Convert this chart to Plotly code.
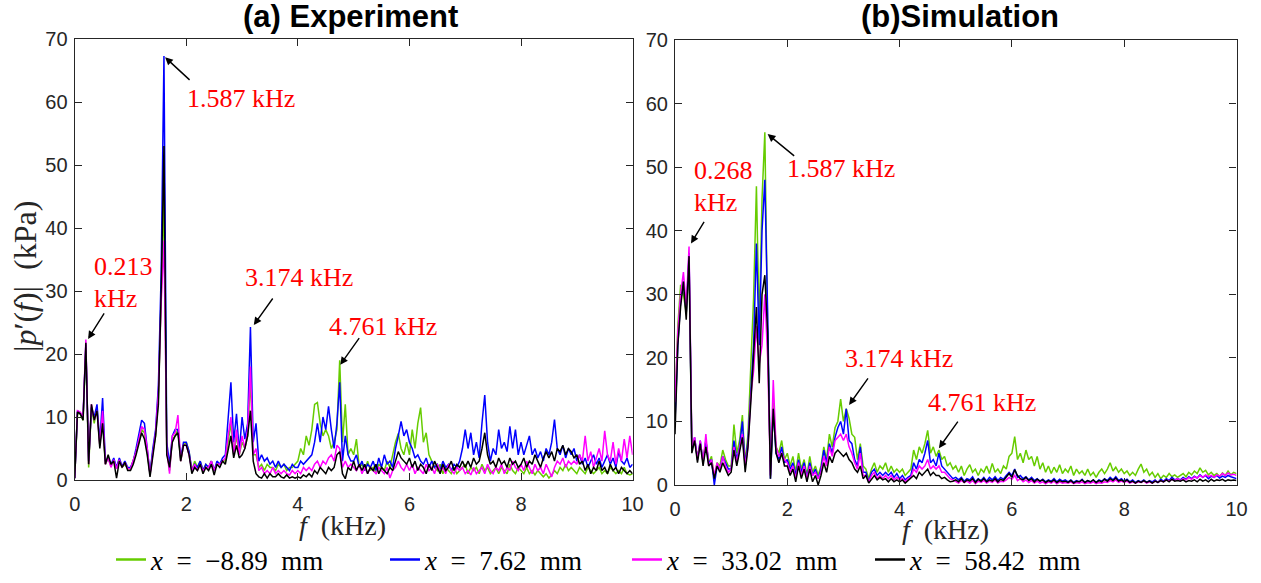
import plotly.graph_objects as go

W, H = 1261, 583

# frequency samples (kHz), 0.05 kHz spacing
freq = [round(i * 0.05, 2) for i in range(201)]

NB = "\u00a0"
legend_labels = [f"<i>x</i>{NB}{NB}={NB}{NB}\u22128.89{NB}{NB}mm",
                 f"<i>x</i>{NB}{NB}={NB}{NB}7.62{NB}{NB}mm",
                 f"<i>x</i>{NB}{NB}={NB}{NB}33.02{NB}{NB}mm",
                 f"<i>x</i>{NB}{NB}={NB}{NB}58.42{NB}{NB}mm"]
colors = ["#66cc00", "#0000ff", "#ff00ff", "#000000"]

# ---------------- (a) Experiment ----------------
exp_green = [
    0.3, 10.5, 10.5, 9.5, 21, 2, 11.5, 9, 11.5, 5.5, 10, 2.5, 3.5, 2.2, 3, 2, 3.2, 2, 2.5, 1.8,
    1.8, 3, 4.5, 6, 8, 7.5, 4.5, 1, 4.5, 7, 13, 30, 45, 5, 1.5, 6.5, 7, 8, 3, 5.5,
    6, 4.5, 1.5, 3, 2, 3, 1.5, 2.5, 2, 3, 1.5, 2.5, 2.5, 3, 3, 6, 9, 4, 7, 4,
    6, 5, 7, 16, 4, 4, 2, 2.5, 1.5, 2.5, 2, 2, 1.5, 2.5, 2, 2.5, 1.5, 2, 2, 2.5,
    3, 5, 4, 7, 5.5, 8, 12, 12.3, 9, 7, 8, 7, 5, 6, 8, 19, 6, 12, 4, 5,
    4, 6.5, 2, 2.5, 1.5, 3, 1.5, 2, 1, 2.5, 2, 1.5, 3, 2, 4, 6, 7.4, 5, 4, 6,
    4, 8, 5, 9, 11.5, 6, 7.5, 4, 3, 2, 1.5, 2.5, 1, 2, 1.5, 1, 2, 1, 1.5, 2,
    2.5, 1, 2, 1.5, 2, 1, 2.5, 1.5, 2, 1, 1.5, 2, 1, 2, 1.5, 1, 2.5, 1.5, 1, 2,
    1.5, 1, 2, 1, 1.5, 0.8, 1.5, 1, 0.5, 1, 0.3, 0.8, 1.5, 1, 2, 1.5, 2.5, 1.5, 2, 1.5,
    1, 2, 1.5, 1, 2, 1.5, 1, 1.5, 2, 1, 1.5, 1, 2, 1.5, 1, 1.5, 1, 2, 1, 0.8, 1,
]
exp_blue = [
    0.3, 11, 10.5, 10, 21.5, 3, 11.5, 10, 12, 6, 13, 3, 3.5, 2.5, 3.5, 2, 3.5, 2.2, 3, 2,
    2, 3, 5, 7, 9.5, 9, 5, 1, 5, 8, 15, 33, 67.3, 6, 2.5, 7, 8, 8, 3.5, 6,
    6, 4.5, 1.5, 2.5, 2, 3, 1.5, 2.5, 2, 3, 1.5, 3, 2.5, 3.5, 4, 10, 15.5, 6, 10.5, 4.5,
    10, 6.5, 9, 24.3, 6, 9, 3, 4, 3, 3.5, 2.5, 3, 2, 3, 2, 2.5, 2, 1.5, 2.5, 2,
    2, 3, 2.5, 3, 3.5, 4, 6, 9, 6, 10, 8, 11.7, 8, 5, 9, 15.5, 3, 7, 4, 3,
    3, 4, 2, 3, 1.5, 2.5, 2, 3, 1.5, 3.5, 2, 4, 2.5, 3, 2, 5, 7, 9.3, 7, 8,
    6, 5, 3.5, 4, 3, 2.5, 3.5, 2, 3, 2, 2.5, 1.5, 3, 2, 2.5, 1.5, 2.5, 2, 3, 5,
    8, 5, 7.5, 4, 6, 3.5, 9, 13.5, 6, 3, 5, 4, 8, 5, 6, 4.5, 8.5, 5, 8, 4,
    6, 4, 5.5, 7, 4, 5, 3.5, 4.5, 3, 5, 4, 6, 9.6, 5, 4, 5.5, 3.5, 5, 4, 5,
    3, 4, 2.5, 3.5, 2, 3, 4, 2.5, 3.5, 2, 3, 4, 2.5, 3.5, 2, 4.5, 3, 2.5, 3.5, 2, 2.5,
]
exp_magenta = [
    0.3, 11, 10.8, 10, 22.3, 2.5, 12, 9.5, 11, 5.5, 11, 2.5, 3.5, 2, 3.2, 1.8, 3.2, 2, 2.8, 1.8,
    1.8, 3, 4.5, 6.5, 8.5, 8, 5, 0.8, 4.5, 7.5, 14, 28, 38, 5, 1, 7, 7.5, 10.3, 3, 5.5,
    5.5, 4, 1.5, 2.5, 1.5, 2.5, 1.5, 2, 2, 3, 1.5, 2.5, 2.5, 3, 3.5, 7, 10, 4, 8, 4,
    7, 5, 8, 18, 4, 5, 1.5, 2, 1, 1.5, 1, 2, 1, 1.5, 1, 1.5, 1, 0.8, 1.5, 1,
    1.5, 1, 2, 1.5, 2, 1.5, 2.5, 3, 2, 3, 2.5, 3.5, 4, 3, 5.5, 5, 2, 3, 2, 2.5,
    2, 1.5, 2.5, 1, 2, 1, 2, 1.5, 1, 2, 1.5, 1, 2, 0.3, 1.5, 2, 3, 2, 1.5, 2.5,
    1.5, 2.5, 1, 2, 1.5, 1, 2.5, 1.5, 2, 1, 2.5, 1.5, 2, 1, 2.5, 1.5, 1, 2, 1.5, 2,
    1, 1.5, 0.8, 2, 1, 1.5, 2, 1, 2.5, 1.5, 1, 2, 1.5, 2.5, 1, 2, 1.5, 3, 2, 1.5,
    2.5, 1.5, 3, 2, 1, 2.5, 1.5, 2, 1, 2.5, 1.5, 0.5, 2, 3, 2.5, 3.5, 2, 3, 2.5, 3,
    2.5, 4, 3, 7, 3, 4.5, 2, 3.5, 5, 3, 7.8, 4, 3, 6, 2.5, 5, 3, 6.5, 3.5, 7, 4,
]
exp_black = [
    0.3, 10.8, 10.5, 9.5, 21.8, 2.5, 12, 9.5, 11, 5, 9, 2.5, 4, 2.5, 3, 0.3, 3, 2, 2.8, 1.5,
    1.5, 2.5, 4, 6, 7.5, 6.5, 4, 0.5, 4, 7, 12, 30, 53, 4, 2, 6, 7, 7.5, 3, 5.5,
    5.5, 4, 1, 2, 1.5, 2.5, 1, 2, 1.5, 2.5, 0.8, 2.5, 2, 3, 2.5, 5, 7, 3.5, 5.5, 3.5,
    4, 5, 7, 11, 3, 1, 0.5, 0.3, 1, 0.3, 1, 0.5, 0.5, 1, 0.5, 0.3, 0.8, 0.3, 0.5, 0.3,
    0.5, 0.3, 0.8, 0.5, 1, 0.5, 1.5, 1, 2, 1.5, 1, 2, 1.5, 2, 4, 4.5, 1, 0.2, 2, 1.5,
    3, 1.5, 2.5, 1.5, 2.5, 1, 2, 1.5, 2.5, 1, 2, 1.5, 1, 2, 1.5, 3, 4.5, 3.5, 3, 2.5,
    3.5, 2, 3, 1.5, 2.5, 2, 1, 2.5, 1.5, 3, 2, 1, 2.5, 1.5, 2, 3, 1.5, 2.5, 2, 3,
    2, 3, 2, 3.5, 2.5, 3, 5, 7.5, 4, 2.5, 3, 2, 3.5, 2.5, 3, 2, 3.5, 2.5, 3, 2,
    2.5, 3.5, 2, 3, 2.5, 4, 3, 2, 3.5, 4.5, 3.5, 4.5, 3, 5, 4.5, 5.5, 4, 5, 4.5, 3.5,
    4, 2.5, 3, 1.5, 2.5, 1, 2, 1.5, 3, 1.5, 2, 1, 2.5, 1.5, 2, 1, 2, 1.5, 1, 1.5, 1,
]

# ---------------- (b) Simulation ----------------
sim_green = [
    12, 25, 31.5, 30, 27, 35, 6, 7, 4.5, 6.5, 4, 7, 3.5, 4.5, 1, 3.5, 3, 5.5, 4, 3,
    3, 9.5, 5, 7, 11, 3.5, 8, 18, 29.5, 47, 25, 45, 55.5, 24, 1.5, 13, 6, 5, 7, 4,
    5, 3, 4.5, 2, 5, 2.5, 4, 1.5, 4.5, 2, 3, 1.5, 3, 6, 4, 8, 6, 9, 10, 13.5,
    10, 12, 10.5, 8, 7.5, 4, 6.5, 3, 2.5, 1, 2.5, 3.5, 2, 3, 2.5, 3.5, 2, 3, 2, 2.5,
    2, 2.5, 1.5, 2, 2.5, 5.5, 4, 6, 5, 6.5, 8.6, 5, 6, 4.5, 5.5, 4, 4.5, 3, 3.5, 2.5,
    3, 2, 3, 1.5, 2.5, 3.2, 2, 2.5, 1.5, 2.5, 2, 3, 1.8, 3.4, 2, 2.5, 1.8, 3, 2.5, 4.5,
    5, 7.6, 4, 5, 3.5, 5.5, 4, 4.5, 3, 4.5, 2.5, 3.5, 2, 3, 1.8, 2.8, 2, 3.2, 1.8, 2.5,
    2, 3, 1.5, 2.5, 1.8, 2.2, 1.5, 2.5, 1.5, 2, 1.2, 2, 2.5, 1.8, 2.5, 3.5, 2.2, 2.8, 2, 2.5,
    1.8, 2.2, 1.5, 2, 1.5, 2.5, 3.3, 2, 2.5, 1.5, 2, 1.2, 1.8, 1, 1.5, 1.2, 1.8, 1.3, 1.6, 1.2,
    1.5, 1.8, 1.3, 2, 1.6, 2.2, 1.8, 2.7, 2, 2.3, 1.6, 2, 1.5, 1.8, 1.3, 1.9, 1.5, 2.2, 1.6, 2, 1.8,
]
sim_blue = [
    10, 22, 29, 32, 27, 36.5, 5.5, 7.5, 4, 7, 3.5, 7, 3.5, 4, 0, 3, 2.5, 4.5, 3.5, 2.5,
    2.5, 7, 4, 6, 10, 3, 7, 15, 22, 38, 22, 40, 48, 27, 1, 12, 5, 4, 6, 3.5,
    4, 2.5, 3.5, 1.5, 4, 2, 3.5, 1, 3.5, 1.5, 2.5, 1, 2.5, 5.5, 3.5, 6.5, 5, 7.5, 9, 10,
    8, 12, 7, 6.5, 4, 3, 6, 2, 2, 0.5, 2, 2.5, 1.5, 2, 1.5, 2, 1.5, 2, 1.2, 1.8,
    1, 1.5, 0.8, 1.2, 1.5, 3.5, 2.5, 4, 3.5, 5, 7, 3.5, 4, 3, 5, 3, 2.5, 2, 1.5, 1,
    1.2, 0.8, 1.2, 0.6, 1, 0.8, 1.3, 0.5, 1, 0.7, 1.2, 0.6, 1.2, 0.8, 1.3, 0.7, 1.2, 0.9, 1.5, 2,
    1.5, 2.5, 1.2, 1.5, 1, 1.3, 0.8, 1.2, 0.7, 1, 0.6, 0.9, 0.5, 0.8, 0.6, 1, 0.5, 0.9, 0.6, 0.8,
    0.5, 0.8, 0.4, 0.7, 0.5, 0.9, 0.4, 0.7, 0.5, 0.8, 0.4, 0.8, 0.6, 1, 0.7, 1.2, 0.8, 1.3, 0.7, 1,
    0.6, 0.9, 0.5, 0.8, 0.4, 0.7, 0.5, 0.8, 0.4, 0.7, 0.5, 0.8, 0.4, 0.9, 0.6, 1, 0.7, 1.2, 0.8, 1,
    0.8, 1.2, 0.9, 1.3, 1, 1.4, 1.1, 1.6, 1.2, 1.5, 1, 1.4, 1.2, 1.5, 1.1, 1.4, 1.2, 1.5, 1.3, 1.2, 1,
]
sim_magenta = [
    13, 24, 30, 33.5, 28, 37.5, 6, 7.5, 4, 7, 3.5, 8, 3, 4, 1.5, 3.5, 2.5, 4.5, 3, 2,
    2.5, 6, 3.5, 5.5, 8, 3, 6, 14, 18, 25, 19, 22, 30, 20, 1.5, 16.5, 6, 4.5, 5, 4,
    3.5, 2, 3, 1, 3.5, 1.5, 3, 1, 3, 1.5, 2, 1, 2, 4.5, 3, 6, 4.5, 7, 7.5, 8,
    7, 8, 6, 5, 3.5, 2.5, 5, 1.5, 1.5, 0.5, 1.5, 2, 1, 1.5, 1, 1.5, 1, 1.5, 0.8, 1.2,
    0.8, 1, 0.5, 1, 1.2, 2.5, 2, 3, 2.5, 3, 4, 2.5, 3, 2.5, 3, 2, 2, 1.5, 1, 0.8,
    0.6, 0.3, 0.7, 0.4, 0.6, 0.3, 0.7, 0.2, 0.6, 0.4, 0.7, 0.3, 0.6, 0.4, 0.8, 0.3, 0.6, 0.5, 0.8, 1.2,
    0.9, 1.5, 0.7, 1, 0.5, 0.8, 0.4, 0.7, 0.3, 0.6, 0.3, 0.5, 0.2, 0.5, 0.3, 0.6, 0.2, 0.5, 0.3, 0.4,
    0.3, 0.5, 0.2, 0.4, 0.3, 0.5, 0.2, 0.4, 0.3, 0.5, 0.2, 0.4, 0.3, 0.5, 0.4, 0.7, 0.5, 0.8, 0.4, 0.6,
    0.4, 0.6, 0.3, 0.5, 0.3, 0.5, 0.4, 0.6, 0.3, 0.5, 0.3, 0.6, 0.4, 0.7, 0.5, 0.8, 0.6, 0.9, 0.7, 1,
    0.7, 1, 0.8, 1.2, 0.9, 1.3, 1.1, 1.5, 1.2, 1.6, 1.3, 1.5, 1.2, 1.6, 1.4, 1.8, 1.5, 1.9, 1.6, 1.7, 1.5,
]
sim_black = [
    8, 22, 28, 32, 26, 36, 5, 7, 3.5, 6.5, 3, 6, 3, 3.5, 1, 3, 2, 3.5, 2.5, 1.5,
    2, 5.5, 3, 5, 7.5, 2, 6, 13, 20, 28, 16, 30, 33, 24, 1, 12, 5, 3.5, 5, 3,
    3, 1.5, 2.5, 0.5, 3, 1, 2.5, 0.5, 2.5, 0.5, 1.5, 0, 1.5, 3.5, 2, 4.5, 3.5, 5, 5.5, 5,
    4.5, 5, 4, 3.5, 2.5, 2, 3, 1, 1.5, 0.3, 1, 1.5, 0.8, 1.2, 0.8, 1, 0.5, 1, 0.5, 0.8,
    0.5, 0.8, 0.3, 0.7, 1, 1.5, 1, 2, 1.5, 2, 2.5, 1.5, 2, 1.5, 1.5, 1, 1.2, 0.8, 0.5, 0.6,
    0.8, 0.5, 1, 0.4, 0.8, 0.6, 1, 0.4, 0.9, 0.6, 1, 0.5, 0.8, 0.6, 1, 0.5, 0.9, 0.7, 1.2, 1.8,
    1.2, 2.4, 1.5, 1, 0.8, 1.2, 0.7, 1, 0.5, 0.9, 0.6, 0.8, 0.4, 0.7, 0.5, 0.8, 0.4, 0.7, 0.5, 0.6,
    0.4, 0.7, 0.3, 0.6, 0.5, 0.8, 0.4, 0.7, 0.5, 0.8, 0.4, 0.7, 0.5, 0.9, 0.6, 1, 0.7, 1.1, 0.6, 0.8,
    0.5, 0.8, 0.4, 0.6, 0.3, 0.6, 0.4, 0.7, 0.4, 0.6, 0.3, 0.6, 0.4, 0.7, 0.5, 0.8, 0.5, 0.9, 0.6, 0.7,
    0.6, 0.8, 0.5, 0.7, 0.6, 0.8, 0.5, 0.9, 0.6, 0.8, 0.5, 0.9, 0.6, 0.8, 0.7, 0.9, 0.6, 0.8, 0.7, 0.8, 0.7,
]

exp_series = [exp_green, exp_blue, exp_magenta, exp_black]
sim_series = [sim_green, sim_blue, sim_magenta, sim_black]
for s in exp_series + sim_series:
    assert len(s) == len(freq), len(s)

x_ticks = [0, 2, 4, 6, 8, 10]
y_ticks = [0, 10, 20, 30, 40, 50, 60, 70]


def pxx(v):
    return v / W


def pxy(v):
    return 1 - v / H


fig = go.Figure()
for ys, col in zip(exp_series, colors):
    fig.add_trace(go.Scatter(x=freq, y=ys, mode="lines", line=dict(color=col, width=1.5),
                             xaxis="x", yaxis="y", showlegend=False))
for ys, col in zip(sim_series, colors):
    fig.add_trace(go.Scatter(x=freq, y=ys, mode="lines", line=dict(color=col, width=1.5),
                             xaxis="x2", yaxis="y2", showlegend=False))

# legend entries (thicker key lines, no data drawn)
legend_ids = ["legend", "legend2", "legend3", "legend4"]
for lid, col, lab in zip(legend_ids, colors, legend_labels):
    fig.add_trace(go.Scatter(x=[None], y=[None], mode="lines", name=lab,
                             line=dict(color=col, width=2.6), xaxis="x", yaxis="y",
                             legend=lid, showlegend=True))

axis_common = dict(showgrid=False, zeroline=False, showline=True,
                   linecolor="#262626", linewidth=1.2, mirror="ticks",
                   ticks="inside", ticklen=7, tickwidth=1.2, tickcolor="#262626",
                   tickfont=dict(family="Liberation Sans, Arial", size=20, color="#262626"))

fig.update_layout(
    width=W, height=H,
    margin=dict(l=0, r=0, t=0, b=0, autoexpand=False),
    paper_bgcolor="white", plot_bgcolor="white",
    xaxis=dict(domain=[pxx(74.7), pxx(632.6)], range=[0, 10], tickvals=x_ticks,
               anchor="y", ticklabelstandoff=6, **axis_common),
    yaxis=dict(domain=[pxy(480), pxy(39)], range=[0, 70], tickvals=y_ticks,
               anchor="x", ticklabelstandoff=2, **axis_common),
    xaxis2=dict(domain=[pxx(675), pxx(1236.5)], range=[0, 10], tickvals=x_ticks,
                anchor="y2", ticklabelstandoff=6, **axis_common),
    yaxis2=dict(domain=[pxy(485), pxy(40)], range=[0, 70], tickvals=y_ticks,
                anchor="x2", ticklabelstandoff=2, **axis_common),
)

leg_font = dict(family="Liberation Serif, Times New Roman", size=27, color="black")
leg_x = [116, 390, 632, 875]
for lid, lx in zip(legend_ids, leg_x):
    fig.update_layout({lid: dict(x=pxx(lx - 5), y=pxy(560), xanchor="left", yanchor="middle",
                                 orientation="h", font=leg_font, bgcolor="rgba(0,0,0,0)",
                                 itemwidth=30)})

serif = "Liberation Serif, Times New Roman"
ann = []
# titles
ann.append(dict(text="<b>(a) Experiment</b>", x=pxx(350), y=pxy(17), xref="paper", yref="paper",
                xanchor="center", yanchor="middle", showarrow=False,
                font=dict(family="Liberation Sans, Arial", size=31, color="black")))
ann.append(dict(text="<b>(b)Simulation</b>", x=pxx(960), y=pxy(17), xref="paper", yref="paper",
                xanchor="center", yanchor="middle", showarrow=False,
                font=dict(family="Liberation Sans, Arial", size=31, color="black")))
# axis titles
ann.append(dict(text=f"|<i>p</i>\u2032(<i>f</i>)|{NB}{NB}(kPa)", x=pxx(25), y=pxy(277),
                xref="paper", yref="paper", xanchor="center", yanchor="middle", textangle=-90,
                showarrow=False, font=dict(family=serif, size=32, color="#262626")))
ann.append(dict(text=f"<i>f</i>{NB}{NB}(kHz)", x=pxx(343), y=pxy(525), xref="paper",
                yref="paper", xanchor="center", yanchor="middle", showarrow=False,
                font=dict(family=serif, size=28, color="#262626")))
ann.append(dict(text=f"<i>f</i>{NB}{NB}(kHz)", x=pxx(945), y=pxy(529), xref="paper",
                yref="paper", xanchor="center", yanchor="middle", showarrow=False,
                font=dict(family=serif, size=28, color="#262626")))

red = dict(family=serif, size=26, color="#ff0000")
texts = [
    ("1.587 kHz", 241, 99, "center"),
    ("0.213", 92, 266, "left"),
    ("kHz", 92, 298, "left"),
    ("3.174 kHz", 299, 277, "center"),
    ("4.761 kHz", 383, 326, "center"),
    ("0.268", 692, 170, "left"),
    ("kHz", 692, 203, "left"),
    ("1.587 kHz", 841, 168, "center"),
    ("3.174 kHz", 899, 358, "center"),
    ("4.761 kHz", 982, 403, "center"),
]
for t, x, y, anc in texts:
    ann.append(dict(text=t, x=pxx(x), y=pxy(y), xref="paper", yref="paper", xanchor=anc,
                    yanchor="middle", showarrow=False, font=red))

# arrows: (axis, head f, head value, tail dx, tail dy in px)
arrows = [
    ("", 1.62, 67.1, 26, 24),
    ("", 0.24, 22.4, 17, -27),
    ("", 3.21, 24.6, 20, -28),
    ("", 4.76, 18.3, 20, -28),
    ("2", 0.285, 38.0, 14, -23),
    ("2", 1.65, 55.2, 28, 23),
    ("2", 3.10, 12.6, 20, -28),
    ("2", 4.70, 5.8, 20, -28),
]
for ax_id, fx, fy, dx, dy in arrows:
    ann.append(dict(text="", x=fx, y=fy, xref="x" + ax_id, yref="y" + ax_id,
                    ax=dx, ay=dy, showarrow=True, arrowhead=2, arrowsize=1.1,
                    arrowwidth=1.4, arrowcolor="black"))

fig.update_layout(annotations=ann)
fig.write_html("out.html")
